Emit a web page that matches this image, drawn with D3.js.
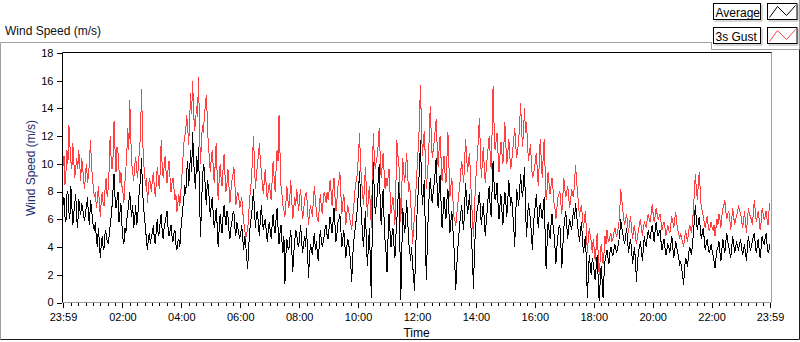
<!DOCTYPE html>
<html>
<head>
<meta charset="utf-8">
<script src="https://cdn.jsdelivr.net/npm/d3@7/dist/d3.min.js"></script>
<style>
	body { margin: 0; background: #fff; }
	svg { display: block; font-family: "Liberation Sans", Arial, sans-serif; }
</style>
</head>
<body>
<svg id="chart" width="800" height="342"></svg>
<script>
// one sample every 2 minutes, from 23:59 to 23:59 next day
var SAMPLE_MIN = 2;

// Average wind speed (m/s), one row per hour
var average = [
	7.0, 7.6, 6.2, 5.8, 7.8, 8.0, 6.5, 6.0, 8.4, 7.0, 5.6, 6.4, 7.2, 7.8, 6.0, 5.4, 7.5, 6.8, 6.3, 7.2, 6.8, 6.2, 5.9, 6.6, 7.0, 7.6, 6.1, 5.6, 7.4, 6.8,
	6.0, 5.4, 5.2, 5.8, 4.6, 4.0, 5.4, 4.4, 3.2, 4.2, 4.8, 3.8, 4.0, 5.2, 5.0, 4.4, 4.3, 4.8, 5.5, 6.2, 7.0, 8.2, 9.3, 7.6, 6.8, 7.4, 8.0, 5.8, 6.5, 7.2,
	5.6, 4.6, 4.2, 5.4, 5.0, 6.0, 6.5, 7.2, 8.0, 6.8, 6.2, 7.0, 5.4, 6.0, 7.0, 5.6, 6.0, 7.4, 8.2, 9.0, 10.4, 8.0, 7.0, 6.0, 5.5, 4.4, 3.8, 4.6, 5.0, 4.2,
	4.8, 5.0, 5.6, 4.6, 4.2, 5.2, 6.0, 4.8, 5.0, 5.8, 6.4, 5.2, 4.6, 5.4, 5.8, 6.2, 6.6, 5.4, 4.8, 5.2, 5.6, 4.8, 4.4, 5.0, 5.2, 4.2, 3.8, 4.4, 4.6, 4.0,
	5.2, 6.0, 6.8, 7.4, 8.5, 7.8, 9.5, 10.2, 8.4, 9.6, 11.0, 9.4, 12.3, 10.4, 9.0, 8.2, 10.6, 9.4, 11.2, 7.8, 4.7, 6.8, 8.8, 10.0, 9.6, 8.2, 7.0, 8.8, 8.4, 7.4,
	6.2, 7.0, 7.6, 6.4, 5.4, 6.0, 6.8, 5.6, 4.0, 5.2, 6.4, 5.6, 5.0, 6.2, 7.0, 6.2, 5.6, 6.6, 6.2, 5.2, 4.6, 5.4, 5.8, 6.4, 6.6, 5.4, 4.8, 5.8, 5.4, 5.0,
	4.6, 5.0, 5.6, 4.6, 3.8, 4.8, 4.2, 3.4, 2.4, 3.8, 5.0, 5.8, 6.2, 7.2, 8.2, 6.6, 5.4, 6.4, 6.6, 5.6, 4.8, 6.0, 7.0, 6.0, 5.2, 5.8, 6.0, 5.2, 4.4, 5.2,
	5.8, 5.2, 4.6, 5.6, 6.4, 5.4, 5.0, 6.0, 6.8, 5.4, 4.2, 5.0, 5.6, 4.4, 3.6, 4.8, 1.3, 3.4, 4.6, 4.0, 3.8, 4.6, 5.2, 3.8, 2.2, 3.6, 4.4, 5.2, 5.0, 4.2,
	4.0, 4.8, 5.6, 4.4, 3.6, 4.2, 4.8, 4.0, 5.4, 3.8, 1.8, 3.2, 4.2, 3.8, 3.4, 4.4, 5.0, 3.8, 4.4, 3.6, 3.0, 4.2, 5.2, 4.6, 4.0, 4.4, 4.8, 5.4, 5.6, 4.8,
	4.6, 5.4, 6.2, 5.6, 5.0, 5.8, 6.8, 5.6, 4.4, 5.0, 5.8, 6.0, 6.4, 5.2, 4.0, 4.6, 5.2, 4.2, 3.2, 4.0, 4.6, 4.2, 3.6, 2.8, 1.5, 3.2, 4.4, 5.0, 5.6, 6.2,
	7.0, 8.2, 9.5, 7.6, 6.2, 5.0, 4.0, 5.4, 6.6, 4.4, 2.6, 4.0, 5.4, 3.0, 0.3, 5.6, 10.1, 8.0, 6.4, 7.0, 7.8, 8.8, 10.0, 7.4, 5.6, 7.0, 8.2, 6.0, 4.4, 3.6,
	2.2, 4.6, 6.4, 5.2, 4.0, 4.8, 5.4, 4.2, 3.2, 4.8, 6.0, 7.2, 8.7, 4.6, 0.2, 3.6, 6.8, 5.8, 5.0, 6.0, 7.4, 6.0, 4.4, 3.8, 3.0, 4.0, 2.7, 2.0, 0.8, 3.4,
	5.6, 7.0, 8.4, 9.6, 11.7, 9.0, 7.0, 8.0, 8.8, 5.0, 1.6, 4.2, 6.4, 7.8, 9.0, 8.0, 7.2, 8.0, 8.6, 9.4, 10.4, 8.4, 6.8, 8.0, 9.2, 7.2, 5.4, 6.4, 7.6, 6.8,
	6.0, 7.4, 8.2, 6.6, 5.0, 5.8, 6.6, 5.4, 4.2, 2.8, 0.9, 2.6, 3.8, 4.8, 5.6, 6.4, 7.0, 6.0, 5.2, 7.0, 8.6, 7.4, 6.4, 7.0, 7.8, 6.2, 4.6, 3.2, 1.0, 3.6,
	5.2, 6.2, 6.8, 7.2, 8.0, 6.8, 5.6, 6.4, 7.2, 6.0, 4.8, 5.8, 6.6, 7.6, 8.4, 7.0, 6.2, 8.2, 10.2, 8.6, 7.4, 7.8, 8.6, 7.2, 6.0, 7.0, 7.8, 6.6, 5.6, 7.0,
	8.0, 7.2, 6.2, 7.4, 8.8, 7.8, 7.0, 7.6, 6.4, 5.6, 4.0, 6.2, 8.2, 7.6, 7.0, 8.0, 9.3, 8.2, 7.6, 8.6, 9.8, 7.0, 4.7, 6.0, 7.2, 6.6, 6.0, 5.0, 3.8, 5.4,
	6.4, 7.0, 7.8, 6.6, 5.4, 6.4, 7.2, 6.6, 6.0, 6.8, 7.6, 5.0, 2.4, 4.2, 5.8, 5.2, 4.6, 5.6, 6.4, 5.6, 5.0, 4.0, 2.8, 4.0, 4.8, 5.4, 5.6, 4.2, 2.5, 4.0,
	5.4, 6.0, 6.6, 5.6, 4.6, 5.4, 6.0, 5.6, 5.2, 6.0, 6.8, 6.0, 7.2, 6.4, 5.6, 5.0, 4.4, 5.2, 5.8, 4.6, 3.6, 4.2, 4.8, 3.0, 0.3, 2.0, 3.4, 2.6, 2.0, 3.2,
	2.8, 2.2, 1.6, 2.6, 3.4, 1.8, 0.1, 1.4, 2.6, 1.6, 0.3, 2.0, 3.0, 3.4, 3.8, 3.2, 2.8, 3.6, 4.0, 3.6, 3.4, 3.8, 4.2, 3.8, 3.6, 4.0, 4.4, 5.0, 6.0, 5.4,
	5.0, 4.6, 4.2, 4.8, 5.4, 4.4, 3.6, 4.2, 4.6, 3.8, 2.8, 3.4, 4.0, 3.0, 1.5, 2.8, 3.6, 4.0, 4.4, 3.8, 3.0, 3.8, 4.8, 4.2, 4.0, 4.8, 5.2, 4.8, 4.6, 5.2,
	5.6, 5.0, 4.4, 5.2, 5.8, 5.2, 4.8, 5.0, 5.2, 4.4, 3.8, 4.2, 4.6, 4.0, 3.4, 3.8, 4.2, 4.0, 3.6, 4.2, 4.8, 4.0, 3.2, 3.8, 4.4, 4.0, 3.6, 3.2, 2.8, 3.0,
	2.4, 2.0, 1.3, 2.4, 3.2, 3.0, 2.6, 3.4, 4.0, 3.8, 3.4, 4.2, 5.0, 6.0, 7.0, 6.0, 5.2, 5.8, 6.2, 5.4, 4.6, 5.0, 5.4, 4.6, 3.8, 4.2, 4.6, 4.0, 3.6, 3.8,
	4.2, 3.8, 3.4, 3.0, 2.5, 3.2, 3.8, 4.0, 4.4, 3.6, 3.0, 3.8, 4.6, 4.0, 3.6, 4.4, 5.0, 4.4, 4.0, 3.6, 3.2, 4.0, 4.8, 4.2, 3.6, 4.0, 4.4, 4.0, 3.8, 4.2,
	4.6, 4.0, 3.4, 3.8, 4.2, 3.6, 3.0, 4.0, 4.8, 4.2, 3.8, 4.0, 4.4, 4.8, 5.0, 4.2, 3.6, 4.0, 4.6, 3.8, 3.2, 4.0, 4.8, 4.4, 4.2, 4.6, 5.0, 4.2, 3.6, 3.8, 4.2
];

// 3s gust (m/s)
var gust = [
	9.8, 10.6, 8.5, 9.4, 11.0, 10.0, 12.8, 11.4, 10.2, 9.6, 11.5, 10.2, 9.0, 9.8, 10.4, 9.6, 11.0, 10.0, 8.8, 10.4, 9.8, 8.8, 8.2, 9.4, 10.0, 8.6, 9.2, 10.2, 11.7, 10.0,
	9.0, 8.2, 7.6, 8.0, 6.8, 7.4, 8.4, 7.2, 6.2, 7.4, 8.0, 7.0, 7.0, 8.4, 9.0, 7.6, 8.2, 9.6, 12.0, 10.4, 9.6, 10.6, 13.1, 11.0, 9.4, 11.2, 10.8, 9.6, 8.6, 9.4,
	8.4, 8.0, 7.2, 8.6, 9.6, 10.8, 12.6, 11.0, 14.6, 12.0, 10.0, 9.4, 8.8, 9.8, 10.5, 9.6, 9.0, 10.2, 11.0, 12.4, 15.4, 12.0, 10.2, 9.4, 8.4, 9.0, 7.2, 8.2, 9.0, 8.6,
	8.0, 8.8, 9.4, 8.4, 7.6, 8.6, 9.8, 9.0, 8.2, 9.4, 11.7, 9.8, 9.0, 9.8, 10.6, 9.4, 8.6, 9.6, 10.2, 9.0, 8.0, 8.6, 9.0, 8.2, 7.4, 7.8, 6.5, 7.2, 7.8, 7.0,
	8.0, 9.0, 10.2, 11.4, 12.0, 12.4, 13.5, 12.6, 11.4, 13.2, 15.1, 13.6, 16.0, 13.8, 12.4, 13.0, 14.2, 13.4, 16.3, 12.6, 10.0, 11.6, 12.8, 12.2, 13.6, 14.2, 15.0, 13.2, 11.2, 10.6,
	9.4, 10.4, 11.0, 9.8, 8.6, 10.0, 11.5, 9.2, 7.4, 8.8, 10.0, 9.0, 8.4, 9.6, 10.7, 9.2, 8.0, 8.6, 9.6, 8.4, 7.2, 8.0, 8.8, 9.2, 9.8, 8.6, 7.0, 7.6, 8.0, 7.6,
	6.8, 7.2, 7.6, 6.6, 5.8, 5.4, 4.5, 5.0, 5.2, 6.2, 7.4, 8.2, 9.0, 10.4, 12.0, 10.0, 8.2, 9.2, 10.0, 10.6, 11.5, 10.2, 9.4, 8.6, 7.8, 8.8, 9.6, 8.4, 7.4, 8.0,
	8.6, 8.0, 7.4, 8.8, 10.2, 9.0, 8.0, 9.6, 11.0, 10.2, 13.5, 10.8, 8.4, 7.8, 7.0, 6.6, 6.2, 7.2, 8.4, 7.4, 6.8, 7.6, 8.8, 7.4, 6.0, 6.8, 7.6, 7.0, 8.2, 7.4,
	6.6, 7.6, 8.2, 7.0, 6.0, 6.6, 7.4, 7.8, 8.0, 6.8, 5.6, 6.4, 7.0, 6.6, 6.2, 7.4, 8.4, 7.4, 6.6, 6.0, 5.8, 6.8, 7.8, 7.0, 6.4, 7.4, 8.0, 7.6, 7.2, 8.0,
	7.4, 8.0, 8.8, 8.0, 7.0, 8.2, 9.0, 7.6, 6.6, 7.4, 8.4, 8.8, 9.4, 7.8, 6.4, 7.2, 7.8, 6.8, 5.6, 6.4, 7.0, 6.6, 6.0, 5.8, 5.2, 6.2, 6.8, 7.8, 8.6, 8.8,
	9.6, 10.8, 12.2, 10.0, 8.8, 8.0, 7.0, 8.4, 9.8, 8.0, 6.2, 7.6, 8.4, 7.0, 5.4, 8.8, 12.2, 10.6, 9.6, 10.2, 10.6, 11.4, 12.6, 10.6, 9.0, 9.8, 10.8, 9.4, 8.2, 9.0,
	8.4, 9.0, 9.6, 8.0, 6.4, 7.0, 7.6, 6.8, 5.6, 8.4, 11.7, 10.6, 10.2, 8.0, 5.8, 8.2, 10.4, 9.4, 8.6, 9.8, 10.8, 9.2, 8.0, 8.6, 7.4, 6.0, 4.2, 5.4, 6.2, 7.6,
	8.8, 10.2, 11.4, 13.0, 15.7, 12.8, 10.6, 11.6, 12.4, 10.4, 8.2, 9.2, 10.2, 12.0, 14.2, 12.2, 10.4, 11.0, 11.6, 12.4, 13.2, 11.4, 9.8, 11.0, 12.0, 10.4, 8.8, 9.6, 10.6, 9.4,
	8.6, 10.4, 12.3, 10.0, 7.6, 8.4, 9.0, 7.6, 6.2, 6.0, 5.5, 6.4, 7.0, 7.8, 8.4, 9.4, 10.2, 9.6, 8.6, 10.2, 11.8, 10.6, 9.4, 10.2, 10.8, 9.0, 7.4, 6.0, 4.7, 6.6,
	8.4, 9.6, 10.6, 11.8, 13.3, 11.2, 9.0, 10.0, 11.2, 9.8, 8.6, 9.6, 10.4, 11.2, 12.0, 10.8, 9.6, 12.4, 15.6, 12.8, 11.0, 11.6, 12.2, 10.8, 9.4, 10.6, 11.6, 10.8, 10.0, 11.4,
	13.0, 11.4, 10.0, 10.8, 11.8, 10.6, 9.6, 10.2, 11.0, 11.8, 12.6, 11.4, 10.4, 11.0, 11.6, 12.8, 14.4, 12.6, 11.2, 12.4, 14.0, 12.2, 13.0, 11.6, 10.2, 10.8, 11.4, 10.2, 9.0, 9.2,
	9.6, 10.2, 10.8, 9.6, 8.4, 10.0, 11.8, 10.4, 9.0, 10.4, 11.8, 9.6, 7.4, 8.2, 9.4, 8.6, 7.8, 8.4, 9.0, 8.2, 7.2, 6.8, 6.0, 6.8, 7.6, 7.8, 8.0, 7.2, 6.4, 7.6,
	9.0, 8.2, 7.6, 8.0, 8.4, 7.6, 6.8, 7.4, 8.2, 7.8, 7.6, 8.8, 9.9, 8.8, 8.0, 7.0, 6.2, 6.8, 7.0, 6.2, 5.4, 6.0, 6.6, 5.2, 3.6, 4.6, 5.4, 4.8, 4.4, 3.6,
	4.6, 3.8, 3.0, 4.0, 5.0, 3.6, 2.0, 3.0, 4.2, 3.6, 2.8, 3.6, 4.8, 4.2, 5.2, 4.6, 4.4, 4.8, 5.0, 4.4, 4.6, 5.0, 5.4, 5.0, 4.8, 5.2, 5.6, 6.6, 8.2, 7.4,
	6.8, 6.0, 5.6, 6.0, 6.4, 5.6, 5.0, 5.8, 6.2, 5.4, 4.6, 5.2, 5.6, 4.8, 4.2, 4.8, 5.2, 5.6, 6.0, 5.4, 4.8, 5.4, 5.8, 5.6, 5.4, 6.0, 6.4, 6.0, 5.8, 6.4,
	7.1, 6.4, 5.8, 6.2, 6.8, 6.4, 6.0, 6.2, 6.4, 5.8, 5.2, 5.6, 5.8, 5.4, 4.8, 5.2, 5.6, 5.2, 5.0, 5.6, 6.2, 5.8, 5.4, 6.0, 6.5, 5.8, 5.2, 5.0, 4.6, 5.0,
	4.6, 4.4, 4.0, 4.6, 5.2, 4.8, 4.4, 5.0, 5.6, 5.4, 5.0, 5.8, 6.6, 8.0, 9.3, 8.2, 7.4, 8.6, 9.4, 8.0, 6.8, 6.6, 6.2, 5.8, 5.4, 5.8, 6.2, 5.6, 5.2, 5.4,
	5.8, 5.4, 5.2, 5.6, 4.8, 5.4, 6.0, 5.6, 6.4, 6.0, 5.4, 6.2, 6.8, 7.0, 7.4, 6.6, 6.0, 6.4, 6.6, 6.0, 5.2, 6.0, 6.8, 6.2, 5.6, 6.0, 6.2, 6.6, 7.0, 6.6,
	6.4, 6.0, 5.4, 5.8, 6.6, 5.8, 5.0, 6.0, 6.8, 6.4, 6.2, 6.0, 5.6, 6.4, 7.4, 6.6, 5.8, 6.2, 6.6, 6.0, 5.2, 5.8, 6.8, 6.4, 6.0, 6.2, 6.6, 6.0, 5.6, 6.6, 7.2
];

var xTickLabels = ["23:59", "02:00", "04:00", "06:00", "08:00", "10:00", "12:00",
	"14:00", "16:00", "18:00", "20:00", "22:00", "23:59"];
var yTicks = [0, 2, 4, 6, 8, 10, 12, 14, 16, 18];
var legendNames = ["Average", "3s Gust"];
var seriesColors = ["#000000", "#ff4040"];

var svg = d3.select("#chart");
var start = new Date(2020, 0, 1, 23, 59);
var end = d3.timeDay.offset(start, 1);

var x = d3.scaleTime().domain([start, end]).range([63, 770]);
var y = d3.scaleLinear().domain([0, 18]).range([302.5, 53]);

function timeAt(i) {
	return d3.timeMinute.offset(start, i * SAMPLE_MIN);
}

var majorTimes = xTickLabels.map(function (s, i) {
	if (i == 0) return start;
	if (i == xTickLabels.length - 1) return end;
	var hm = s.split(":");
	return new Date(2020, 0, 2, +hm[0], +hm[1]);
});
var minorTimes = d3.timeMinute.every(15).range(start, end).filter(function (d) {
	return d.getHours() + d.getMinutes() > 0;
});

// outer frame (raised)
svg.append("path").attr("d", "M0.5,339.5V42.5H712").attr("fill", "none").attr("stroke", "#a0a0a0");
svg.append("path").attr("d", "M0.5,339.5H799.5V49").attr("fill", "none").attr("stroke", "#1a1a1a");

svg.append("text").attr("x", 5).attr("y", 35).attr("font-size", "12px").attr("fill", "#111")
	.text("Wind Speed (m/s)");

// plot box (sunken)
svg.append("rect").attr("x", 62.5).attr("y", 52.5).attr("width", 708.5).attr("height", 250)
	.attr("fill", "#fff");
svg.append("path").attr("d", "M62.5,302.5H771.5V52.5").attr("fill", "none").attr("stroke", "#a0a0a0");
svg.append("path").attr("d", "M62.5,302.5V52.5H771.5").attr("fill", "none").attr("stroke", "#000");

// axes
var xMinor = svg.append("g").attr("transform", "translate(0,303)")
	.call(d3.axisBottom(x).tickValues(minorTimes).tickSize(3).tickFormat(""));
var xMajor = svg.append("g").attr("transform", "translate(0,303)")
	.call(d3.axisBottom(x).tickValues(majorTimes).tickSize(5).tickPadding(5)
		.tickFormat(function (d, i) { return xTickLabels[i]; }));
var yAxis = svg.append("g").attr("transform", "translate(61.5,0)")
	.call(d3.axisLeft(y).tickValues(yTicks).tickSize(5).tickPadding(3));

[xMinor, xMajor, yAxis].forEach(function (g) {
	g.select(".domain").remove();
	g.selectAll("line").attr("stroke", "#000").attr("shape-rendering", "crispEdges");
	g.selectAll("text").attr("font-family", "Liberation Sans, Arial, sans-serif")
		.attr("font-size", "11px").attr("fill", "#000");
});
yAxis.selectAll("text").attr("dy", "0.3em");

svg.append("text").attr("x", 416.5).attr("y", 337).attr("text-anchor", "middle")
	.attr("font-size", "12px").attr("fill", "#000").text("Time");
svg.append("text").attr("transform", "translate(34.5,168) rotate(-90)").attr("text-anchor", "middle")
	.attr("font-size", "12px").attr("fill", "#1c2f6e").text("Wind Speed (m/s)");

// series, gust below average
var line = d3.line()
	.x(function (d, i) { return x(timeAt(i)); })
	.y(function (d) { return y(d); });

[gust, average].forEach(function (s, k) {
	svg.append("path").datum(s)
		.attr("d", line)
		.attr("fill", "none")
		.attr("stroke", seriesColors[1 - k])
		.attr("stroke-width", 1)
		.attr("shape-rendering", "crispEdges");
});

// legend panel
svg.append("path").attr("d", "M711.5,42.5V49.5H799.5V0").attr("fill", "none").attr("stroke", "#a0a0a0");
var leg = svg.selectAll("g.leg").data(legendNames).enter().append("g").attr("class", "leg")
	.attr("transform", function (d, i) { return "translate(713.5," + (3.5 + i * 24) + ")"; });
leg.append("path").attr("d", "M1,17.5H48.5V1").attr("fill", "none").attr("stroke", "#b0b0b0");
leg.append("rect").attr("width", 47).attr("height", 16).attr("fill", "#fff").attr("stroke", "#000");
leg.append("text").attr("x", 2).attr("y", 13).attr("font-size", "12px").attr("fill", "#000")
	.text(function (d) { return d; });
leg.append("path").attr("d", "M55,17.5H84.5V1").attr("fill", "none").attr("stroke", "#b0b0b0");
leg.append("rect").attr("x", 54).attr("width", 29.5).attr("height", 16).attr("fill", "#fff").attr("stroke", "#000");
leg.append("path").attr("d", "M56,14L64,3L73,12L82,2").attr("fill", "none")
	.attr("stroke", function (d, i) { return seriesColors[i]; });
</script>
</body>
</html>
